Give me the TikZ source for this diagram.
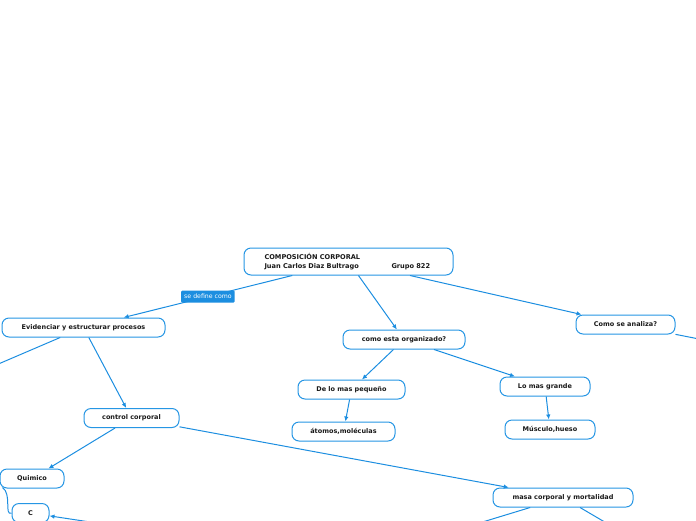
\documentclass[tikz,border=0pt]{standalone}
\usepackage{fontspec}
\setmainfont{DejaVu Sans}
\usetikzlibrary{arrows.meta,calc}
\definecolor{mmblue}{RGB}{38,150,228}
\definecolor{mmline}{RGB}{28,142,224}
\tikzset{
  topic/.style={draw=mmblue, line width=1pt, fill=white, rounded corners=7pt,
    minimum height=19pt, inner xsep=2pt, inner ysep=0pt,
    font=\fontsize{6.5}{8}\selectfont\bfseries, text=black!90},
  conn/.style={draw=mmline, line width=1pt},
  arr/.style={conn, -{Latex[length=5pt,width=4.5pt]}},
  lbl/.style={fill=mmline, text=white, rounded corners=1pt, inner xsep=3pt, inner ysep=0pt,
    minimum height=12pt, font=\fontsize{6.2}{7}\selectfont}
}
\begin{document}
\begin{tikzpicture}[x=1pt,y=-1pt]
\useasboundingbox (0,0) rectangle (696,520);
\clip (0,0) rectangle (696,520);
% nodes
\node[topic, minimum width=209pt, minimum height=27pt, text width=168pt, align=left,
  font=\fontsize{6.6}{8.6}\selectfont\bfseries] (root) at (348.5,261.5)
  {COMPOSICIÓN CORPORAL\\\makebox[127pt][l]{Juan Carlos Diaz Bultrago}Grupo 822};
\node[topic, minimum width=163pt] (evid) at (83.5,327.5) {Evidenciar y estructurar procesos};
\node[topic, minimum width=122pt] (org) at (404,339.5) {como esta organizado?};
\node[topic, minimum width=99pt] (anal) at (625.5,324.5) {Como se analiza?};
\node[topic, minimum width=107pt] (peq) at (351.5,389.5) {De lo mas pequeño};
\node[topic, minimum width=90pt] (gra) at (545,386.5) {Lo mas grande};
\node[topic, minimum width=103pt] (ato) at (343.5,431.5) {átomos,moléculas};
\node[topic, minimum width=90pt] (mus) at (550,429.5) {Músculo,hueso};
\node[topic, minimum width=95pt] (ctrl) at (131.5,418) {control corporal};
\node[topic, minimum width=64pt] (quim) at (32,478.5) {Quimico};
\node[topic, minimum width=37pt] (cc) at (30.5,513) {C};
\node[topic, minimum width=140pt] (masa) at (563,497.5) {masa corporal y mortalidad};
% off-picture ends
\coordinate (offL) at (-60,389);
\coordinate (offR) at (760,351);
\coordinate (offBL) at (430,538);
\coordinate (offBR) at (620,531);
\coordinate (offC) at (110,525);
% connectors
\draw[arr] (root) -- node[lbl, pos=0.5] (def) {se define como} (evid);
\draw[arr] (root) -- (org);
\draw[arr] (root) -- (anal);
\draw[arr] (evid) -- (ctrl);
\draw[arr] (org) -- (peq);
\draw[arr] (org) -- (gra);
\draw[arr] (peq) -- (ato);
\draw[arr] (gra) -- (mus);
\draw[arr] (ctrl) -- (quim);
\draw[arr] (ctrl) -- (masa);
\draw[arr] (offC) -- (cc);
\draw[conn] (evid) -- (offL);
\draw[conn] (anal) -- (offR);
\draw[conn] (masa) -- (offBL);
\draw[conn] (masa) -- (offBR);
\draw[conn] ($(quim.south west)+(3,-1)$) .. controls (12,494) and (4,516) .. (cc.west);
\end{tikzpicture}
\end{document}
